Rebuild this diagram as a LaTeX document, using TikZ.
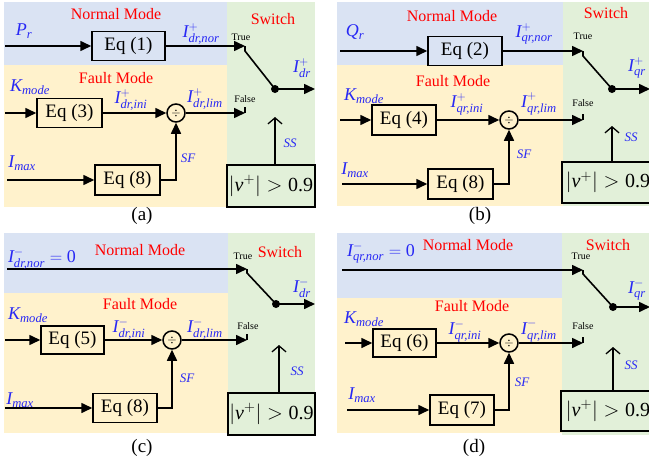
\documentclass[tikz,border=0pt]{standalone}
\usepackage{amsmath}
\usepackage{fontspec}
\setmainfont{Liberation Serif}
\usetikzlibrary{arrows.meta}
\definecolor{bgblue}{HTML}{DAE3F3}
\definecolor{bgyellow}{HTML}{FFF2CC}
\definecolor{bggreen}{HTML}{E2F0D9}
\definecolor{lblue}{RGB}{40,40,245}
\definecolor{lred}{RGB}{255,0,0}
\newcommand{\ti}[1]{\textit{#1}}
\tikzset{
  wire/.style={line width=1.6pt},
  arr/.style={wire, -{Triangle[length=11pt,width=10pt]}},
  openarr/.style={line width=1.3pt, -{Straight Barb[length=6pt,width=14pt]}},
  eqbox/.style={draw, line width=1.5pt, inner sep=0pt, font=\fontsize{19}{22}\selectfont},
  divnode/.style={circle, draw, line width=1.5pt, minimum size=18pt, inner sep=0pt, font=\fontsize{12}{12}\selectfont},
  swbox/.style={draw, line width=1.7pt, fill=bggreen, inner sep=0pt, font=\fontsize{20}{22}\selectfont},
  modetxt/.style={text=lred, inner sep=0pt, font=\fontsize{16}{18}\selectfont},
  lbl/.style={text=lblue, inner sep=0pt, font=\fontsize{18}{20}\selectfont},
  tftxt/.style={inner sep=0pt, font=\fontsize{10}{11}\selectfont},
  sstxt/.style={text=lblue, inner sep=0pt, font=\fontsize{13}{14}\selectfont\itshape},
  captxt/.style={inner sep=0pt, font=\fontsize{19}{21}\selectfont},
}
\begin{document}
\begin{tikzpicture}[x=1pt,y=-1pt]
\useasboundingbox (0,0) rectangle (649,466);
\clip (0,0) rectangle (649,466);
\fill[white] (0,0) rectangle (649,466);

% ================= (a) =================
\fill[bgblue] (4,2) rectangle (227,65);
\fill[bgyellow] (4,65) rectangle (227,207);
\fill[bggreen] (227,2) rectangle (315,207);
\node[modetxt] (nma) at (116,14) {Normal Mode};
\node[modetxt] (swta) at (273,19) {Switch};
\node[modetxt] (fma) at (116,78) {Fault Mode};
\node[eqbox, minimum width=73pt, minimum height=29pt] (eq1) at (128.5,46) {Eq (1)};
\node[eqbox, minimum width=65pt, minimum height=29pt] (eq3) at (69.5,113) {Eq (3)};
\node[eqbox, minimum width=65pt, minimum height=30pt] (eq8a) at (127.5,180) {Eq (8)};
\node[divnode] (diva) at (176,113) {$\div$};
\node[swbox, minimum width=88pt, minimum height=42pt] (swa) at (271,186) {$|\ti{v}^{+}| > \textup{0.9}$};
\coordinate (ina1) at (5,46);
\coordinate (ta) at (245,46);
\coordinate (tla) at (245,51);
\coordinate (dota) at (275,89);
\coordinate (outa) at (315,89);
\coordinate (ina2) at (5,113);
\coordinate (fa) at (245,113);
\coordinate (fta) at (245,107);
\coordinate (ina3) at (7,180);
\coordinate (sfa) at (176,180);
\coordinate (ssa) at (275,117);
\draw[arr] (ina1) -- (eq1);
\draw[arr] (eq1) -- (ta);
\draw[wire] (ta) -- (tla) -- (dota);
\fill (dota) circle (4pt);
\draw[arr] (dota) -- (outa);
\draw[arr] (ina2) -- (eq3);
\draw[arr] (eq3) -- (diva);
\draw[arr] (diva) -- (fa);
\draw[wire] (fa) -- (fta);
\draw[arr] (ina3) -- (eq8a);
\draw[arr] (eq8a.east) -- (sfa) -- (diva);
\draw[openarr] (swa.north -| ssa) -- (ssa);
\node[lbl] (pra) at (24,31) {$\ti{P}_{\ti{r}}$};
\node[lbl] (l1a) at (201,34) {$\ti{I}^{+}_{\ti{dr,nor}}$};
\node[tftxt] (trua) at (241,37) {True};
\node[lbl] (l2a) at (302,68) {$\ti{I}^{+}_{\ti{dr}}$};
\node[lbl] (kma) at (30,87) {$\ti{K}_{\ti{mode}}$};
\node[lbl] (l3a) at (131,100) {$\ti{I}^{+}_{\ti{dr,ini}}$};
\node[lbl] (l4a) at (205,99) {$\ti{I}^{+}_{\ti{dr,lim}}$};
\node[tftxt] (fala) at (245,99) {False};
\node[lbl] (ima) at (22,163) {$\ti{I}_{\ti{max}}$};
\node[sstxt] (sfta) at (188,158) {SF};
\node[sstxt] (ssta) at (290,143) {SS};
\node[captxt] (capa) at (142,216) {(a)};

% ================= (b) =================
\fill[bgblue] (337,2) rectangle (563,65);
\fill[bgyellow] (337,65) rectangle (563,206);
\fill[bggreen] (563,2) rectangle (649,206);
\node[modetxt] (nmb) at (452,16) {Normal Mode};
\node[modetxt] (swtb) at (606,13) {Switch};
\node[modetxt] (fmb) at (453,81) {Fault Mode};
\node[eqbox, minimum width=74pt, minimum height=29pt] (eq2) at (465,51) {Eq (2)};
\node[eqbox, minimum width=64pt, minimum height=30pt] (eq4) at (404,120) {Eq (4)};
\node[eqbox, minimum width=65pt, minimum height=30pt] (eq8b) at (460.5,184) {Eq (8)};
\node[divnode] (divb) at (509,120) {$\div$};
\node[swbox, minimum width=92pt, minimum height=41pt] (swb) at (608,182.5) {$|\ti{v}^{+}| > \textup{0.9}$};
\coordinate (inb1) at (340,51);
\coordinate (tb) at (583,51);
\coordinate (tlb) at (583,56);
\coordinate (dotb) at (612,89);
\coordinate (outb) at (650,89);
\coordinate (inb2) at (340,120);
\coordinate (fb) at (583,120);
\coordinate (ftb) at (583,114);
\coordinate (inb3) at (342,184);
\coordinate (sfb) at (509,184);
\coordinate (ssb) at (612,126);
\draw[arr] (inb1) -- (eq2);
\draw[arr] (eq2) -- (tb);
\draw[wire] (tb) -- (tlb) -- (dotb);
\fill (dotb) circle (4pt);
\draw[arr] (dotb) -- (outb);
\draw[arr] (inb2) -- (eq4);
\draw[arr] (eq4) -- (divb);
\draw[arr] (divb) -- (fb);
\draw[wire] (fb) -- (ftb);
\draw[arr] (inb3) -- (eq8b);
\draw[arr] (eq8b.east) -- (sfb) -- (divb);
\draw[openarr] (swb.north -| ssb) -- (ssb);
\node[lbl] (qrb) at (355,32) {$\ti{Q}_{\ti{r}}$};
\node[lbl] (l1b) at (534,34) {$\ti{I}^{+}_{\ti{qr,nor}}$};
\node[tftxt] (trub) at (583,36) {True};
\node[lbl] (l2b) at (637,68) {$\ti{I}^{+}_{\ti{qr}}$};
\node[lbl] (kmb) at (364,96) {$\ti{K}_{\ti{mode}}$};
\node[lbl] (l3b) at (467,104) {$\ti{I}^{+}_{\ti{qr,ini}}$};
\node[lbl] (l4b) at (539,104) {$\ti{I}^{+}_{\ti{qr,lim}}$};
\node[tftxt] (falb) at (583,103) {False};
\node[lbl] (imb) at (355,170) {$\ti{I}_{\ti{max}}$};
\node[sstxt] (sftb) at (524,154) {SF};
\node[sstxt] (sstb) at (631,137) {SS};
\node[captxt] (capb) at (480,216) {(b)};

% ================= (c) =================
\fill[bgblue] (4,233) rectangle (228,293);
\fill[bgyellow] (4,293) rectangle (228,433);
\fill[bggreen] (228,233) rectangle (315,435);
\node[modetxt] (nmc) at (140,250) {Normal Mode};
\node[modetxt] (swtc) at (280,252) {Switch};
\node[modetxt] (fmc) at (140,304) {Fault Mode};
\node[eqbox, minimum width=63pt, minimum height=28pt] (eq5) at (72.5,340) {Eq (5)};
\node[eqbox, minimum width=64pt, minimum height=29pt] (eq8c) at (125,408) {Eq (8)};
\node[divnode] (divc) at (172,340) {$\div$};
\node[swbox, minimum width=87pt, minimum height=42pt] (swc) at (271.5,414) {$|\ti{v}^{+}| > \textup{0.9}$};
\coordinate (inc1) at (7,269);
\coordinate (tc) at (247,269);
\coordinate (tlc) at (247,273);
\coordinate (dotc) at (276,304);
\coordinate (outc) at (315,304);
\coordinate (inc2) at (5,340);
\coordinate (fc) at (247,340);
\coordinate (ftc) at (247,334);
\coordinate (inc3) at (5,408);
\coordinate (sfc) at (172,408);
\coordinate (ssc) at (279,345);
\draw[arr] (inc1) -- (tc);
\draw[wire] (tc) -- (tlc) -- (dotc);
\fill (dotc) circle (4pt);
\draw[arr] (dotc) -- (outc);
\draw[arr] (inc2) -- (eq5);
\draw[arr] (eq5) -- (divc);
\draw[arr] (divc) -- (fc);
\draw[wire] (fc) -- (ftc);
\draw[arr] (inc3) -- (eq8c);
\draw[arr] (eq8c.east) -- (sfc) -- (divc);
\draw[openarr] (swc.north -| ssc) -- (ssc);
\node[lbl] (l0c) at (42,259) {$\ti{I}^{-}_{\ti{dr,nor}} = \textup{0}$};
\node[tftxt] (truc) at (243,256) {True};
\node[lbl] (l2c) at (302,288) {$\ti{I}^{-}_{\ti{dr}}$};
\node[lbl] (kmc) at (28,315) {$\ti{K}_{\ti{mode}}$};
\node[lbl] (l3c) at (129,329) {$\ti{I}^{-}_{\ti{dr,ini}}$};
\node[lbl] (l4c) at (205,329) {$\ti{I}^{-}_{\ti{dr,lim}}$};
\node[tftxt] (falc) at (248,326) {False};
\node[lbl] (imc) at (20,400) {$\ti{I}_{\ti{max}}$};
\node[sstxt] (sftc) at (187,378) {SF};
\node[sstxt] (sstc) at (297,371) {SS};
\node[captxt] (capc) at (142,448) {(c)};

% ================= (d) =================
\fill[bgblue] (337,233) rectangle (562,298);
\fill[bgyellow] (337,298) rectangle (562,433);
\fill[bggreen] (562,233) rectangle (649,435);
\node[modetxt] (nmd) at (468,245) {Normal Mode};
\node[modetxt] (swtd) at (608,245) {Switch};
\node[modetxt] (fmd) at (472,306) {Fault Mode};
\node[eqbox, minimum width=63pt, minimum height=28pt] (eq6) at (404.5,343) {Eq (6)};
\node[eqbox, minimum width=64pt, minimum height=30pt] (eq7) at (462,410) {Eq (7)};
\node[divnode] (divd) at (509,343) {$\div$};
\node[swbox, minimum width=94pt, minimum height=40pt] (swd) at (608,411) {$|\ti{v}^{+}| > \textup{0.9}$};
\coordinate (ind1) at (342,270);
\coordinate (td) at (583,270);
\coordinate (tld) at (583,274);
\coordinate (dotd) at (613,307);
\coordinate (outd) at (650,307);
\coordinate (ind2) at (345,343);
\coordinate (fd) at (583,343);
\coordinate (ftd) at (583,337);
\coordinate (ind3) at (347,410);
\coordinate (sfd) at (509,410);
\coordinate (ssd) at (613,347);
\draw[arr] (ind1) -- (td);
\draw[wire] (td) -- (tld) -- (dotd);
\fill (dotd) circle (4pt);
\draw[arr] (dotd) -- (outd);
\draw[arr] (ind2) -- (eq6);
\draw[arr] (eq6) -- (divd);
\draw[arr] (divd) -- (fd);
\draw[wire] (fd) -- (ftd);
\draw[arr] (ind3) -- (eq7);
\draw[arr] (eq7.east) -- (sfd) -- (divd);
\draw[openarr] (swd.north -| ssd) -- (ssd);
\node[lbl] (l0d) at (381,253) {$\ti{I}^{-}_{\ti{qr,nor}} = \textup{0}$};
\node[tftxt] (trud) at (581,256) {True};
\node[lbl] (l2d) at (637,290) {$\ti{I}^{-}_{\ti{qr}}$};
\node[lbl] (kmd) at (364,319) {$\ti{K}_{\ti{mode}}$};
\node[lbl] (l3d) at (465,331) {$\ti{I}^{-}_{\ti{qr,ini}}$};
\node[lbl] (l4d) at (539,331) {$\ti{I}^{-}_{\ti{qr,lim}}$};
\node[tftxt] (fald) at (583,326) {False};
\node[lbl] (imd) at (362,395) {$\ti{I}_{\ti{max}}$};
\node[sstxt] (sftd) at (522,382) {SF};
\node[sstxt] (sstd) at (631,365) {SS};
\node[captxt] (capd) at (474,448) {(d)};
\end{tikzpicture}
\end{document}
